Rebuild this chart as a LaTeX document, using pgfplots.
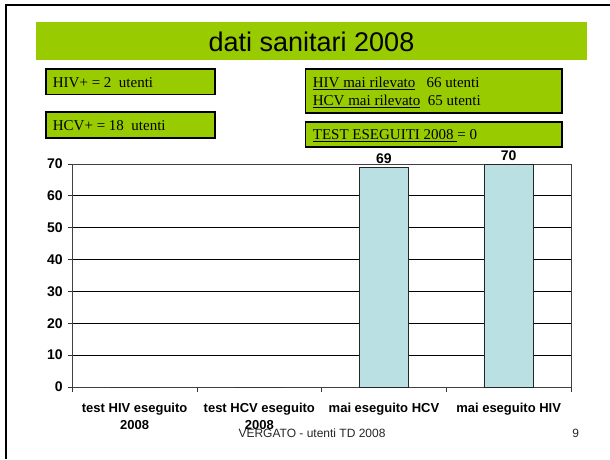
\documentclass[border=0pt]{standalone}
\usepackage{fontspec}
\setmainfont{Liberation Sans}
\newfontfamily\tnr{Liberation Serif}
\usepackage{pgfplots}
\pgfplotsset{compat=1.18}

\definecolor{slidegreen}{RGB}{153,204,0}
\definecolor{barblue}{RGB}{187,224,227}

\begin{document}
\begin{tikzpicture}[x=1pt,y=1pt]
\useasboundingbox (0,0) rectangle (610,459);

% slide frame, only left and top edge fall inside the picture
\draw[line width=2.3pt] (6,0) -- (6,454) -- (610,454);

% title bar
\fill[slidegreen] (36,399) rectangle (587,437);
\node[anchor=base, inner sep=0pt, font=\fontsize{27}{32}\selectfont] at (311.5,407.3) {dati sanitari 2008};

% green info boxes
\tikzset{infobox/.style={fill=slidegreen, draw=black, line width=1.2pt},
         boxtext/.style={anchor=base west, inner sep=0pt, font=\tnr\fontsize{15}{18}\selectfont}}
\draw[infobox] (46,364.3) rectangle (215,390);
\draw[infobox] (46,321) rectangle (215,347);
\draw[infobox] (305.7,346) rectangle (562,390);
\draw[infobox] (305.7,312) rectangle (562,337);

\node[boxtext] at (52.7,371.7) {HIV+ = 2\ \ utenti};
\node[boxtext] at (52.7,328.7) {HCV+ = 18\ \ utenti};
\node[boxtext] at (312.7,371.7) {\underline{HIV mai rilevato}\ \ \ 66 utenti};
\node[boxtext] at (312.7,353.7) {\underline{HCV mai rilevato}\ \ 65 utenti};
\node[boxtext] at (312.7,319.7) {\underline{TEST ESEGUITI 2008\ }= 0};

% bar chart
\begin{axis}[
    at={(72.3pt,72pt)}, anchor=south west,
    scale only axis, width=498.7pt, height=223pt,
    xmin=0.5, xmax=4.5, ymin=0, ymax=70,
    ytick={0,10,...,70},
    yticklabels={0,10,20,30,40,50,60,70},
    xtick={1,2,3,4},
    xticklabels={{test HIV eseguito\\2008},{test HCV eseguito\\2008},{mai eseguito HCV},{mai eseguito HIV}},
    minor xtick={0.5,1.5,2.5,3.5,4.5},
    major x tick style={draw=none},
    tick align=outside, tick pos=left,
    major tick length=4pt, minor tick length=5pt,
    tick style={black!80, line width=0.8pt},
    axis line style={black!75, line width=0.9pt},
    ymajorgrids, major grid style={black, line width=0.8pt},
    /pgf/number format/assume math mode=true,
    yticklabel style={font=\bfseries\fontsize{14}{16}\selectfont, xshift=-2pt},
    xticklabel style={font=\bfseries\fontsize{13}{16.5}\selectfont, align=center, yshift=-9pt},
    ybar, bar width=49.5pt,
    nodes near coords={\pgfmathfloatifflags{\pgfplotspointmeta}{0}{}{\pgfmathprintnumber{\pgfplotspointmeta}}},
    every node near coord/.append style={font=\bfseries\fontsize{14}{16}\selectfont, black},
]
\addplot[fill=barblue, draw=black!85, line width=0.8pt] coordinates {(1,0) (2,0) (3,69) (4,70)};
\end{axis}

% footer
\node[anchor=base, inner sep=0pt, font=\fontsize{12}{14}\selectfont, black!85] at (312,22) {VERGATO - utenti TD 2008};
\node[anchor=base east, inner sep=0pt, font=\fontsize{12}{14}\selectfont, black!85] at (579.3,22) {9};
\end{tikzpicture}
\end{document}
